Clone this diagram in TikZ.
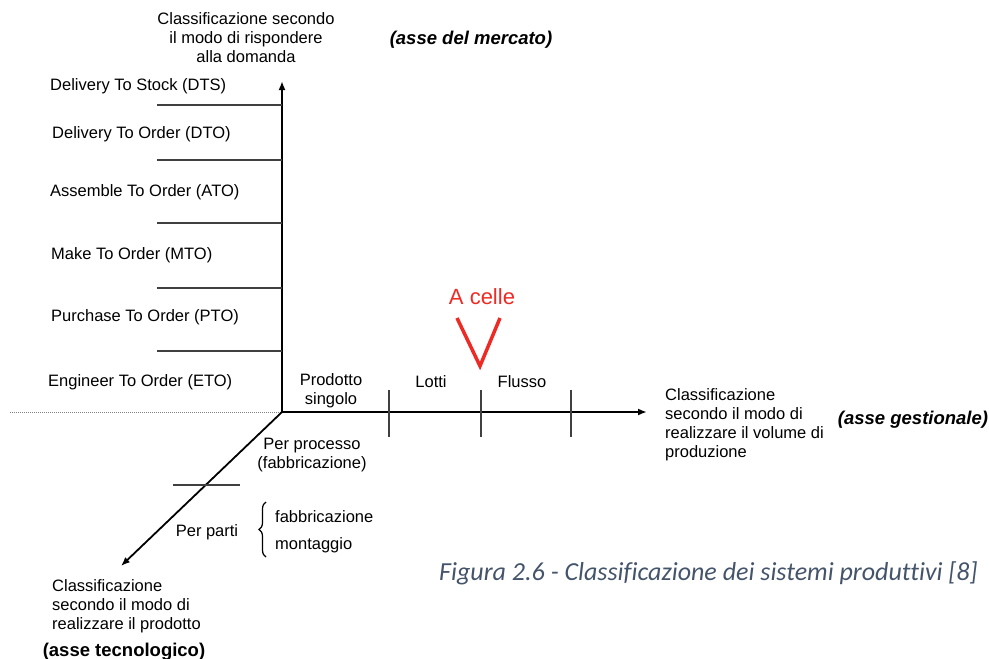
\documentclass[tikz,border=0pt]{standalone}
\usepackage{fontspec}
\setmainfont{Liberation Sans}
\newfontfamily\captionfont[Ligatures=CommonOff]{Carlito}
\usepackage{tikz}
\usetikzlibrary{arrows.meta}
\usetikzlibrary{positioning}
\usetikzlibrary{decorations.pathreplacing}
\definecolor{capblue}{HTML}{44546A}
\definecolor{cellred}{HTML}{EE2A24}
\definecolor{tickgray}{HTML}{404040}

\begin{document}
\begin{tikzpicture}[x=1pt, y=-1pt,
    lbl/.style={inner sep=0pt, font=\fontsize{16.5}{19}\selectfont},
    asse/.style={inner sep=0pt, font=\fontsize{18.5}{21}\selectfont\bfseries},
    axisline/.style={line width=1.8pt, -{Latex[length=9pt, width=7pt]}},
    tickline/.style={line width=1.2pt, draw=tickgray}]

  \useasboundingbox (0,0) rectangle (989,659);

  % assi
  \coordinate (O) at (282,412);
  \coordinate (mercend) at (282,81);
  \coordinate (gestend) at (647,412);
  \coordinate (tecnend) at (121,566);
  \coordinate (dotstart) at (10,412);

  \draw[gray, line width=0.8pt, dash pattern=on 1pt off 1pt] (dotstart) -- (O);
  \draw[axisline] (O) -- (mercend);
  \draw[axisline] (O) -- (gestend);
  \draw[axisline] (O) -- (tecnend);

  % tacche
  \foreach \y in {105,160,223,288,351}
    \draw[tickline] (157,\y) -- (282,\y);
  \foreach \x in {389,481,571}
    \draw[tickline] (\x,390) -- (\x,437);
  \draw[tickline] (173,485) -- (240,485);

  % asse del mercato
  \node[lbl, align=center] (mercato) at (246,38)
    {Classificazione secondo\\il modo di rispondere\\alla domanda};
  \node[asse, font=\fontsize{18.5}{21}\selectfont\bfseries\itshape]
    (assemerc) at (471,40) {(asse del mercato)};
  \node[lbl, anchor=west] (dts) at (50,86) {Delivery To Stock (DTS)};
  \node[lbl, anchor=west] (dto) at (52,134) {Delivery To Order (DTO)};
  \node[lbl, anchor=west] (ato) at (50,192) {Assemble To Order (ATO)};
  \node[lbl, anchor=west] (mto) at (51,255) {Make To Order (MTO)};
  \node[lbl, anchor=west] (pto) at (51,317) {Purchase To Order (PTO)};
  \node[lbl, anchor=west] (eto) at (48,382) {Engineer To Order (ETO)};

  % asse gestionale
  \node[lbl, align=center] (singolo) at (331,391) {Prodotto\\singolo};
  \node[lbl] (lotti) at (431,382) {Lotti};
  \node[lbl] (flusso) at (522,382) {Flusso};
  \node[lbl, text=cellred, font=\fontsize{22}{25}\selectfont]
    (celle) at (482,297) {A celle};
  \draw[cellred, line width=3.5pt, line join=miter]
    (457,318) -- (480,366) -- (500,318);
  \node[lbl, anchor=west, align=left] (gestionale) at (665,425)
    {Classificazione\\secondo il modo di\\realizzare il volume di\\produzione};
  \node[asse, font=\fontsize{18.5}{21}\selectfont\bfseries\itshape]
    (assegest) at (913,420) {(asse gestionale)};

  % asse tecnologico
  \node[lbl, align=center] (processo) at (312,455)
    {Per processo\\(fabbricazione)};
  \node[lbl] (parti) at (207,532) {Per parti};
  \draw[line width=1.2pt, decorate, decoration={brace, amplitude=7pt}]
    (266,557) -- (266,502);
  \node[lbl, anchor=west] (fabbr) at (275,517) {fabbricazione};
  \node[lbl, anchor=west] (montag) at (275,545) {montaggio};
  \node[lbl, anchor=west, align=left] (tecnologico) at (52,606)
    {Classificazione\\secondo il modo di\\realizzare il prodotto};
  \node[asse] (assetecn) at (124,652) {(asse tecnologico)};

  % didascalia
  \node[lbl, anchor=east, text=capblue,
    font=\fontsize{26}{30}\captionfont\itshape] (didascalia) at (978,573)
    {Figura 2.6 - Classificazione dei sistemi produttivi [8]};

\end{tikzpicture}
\end{document}
